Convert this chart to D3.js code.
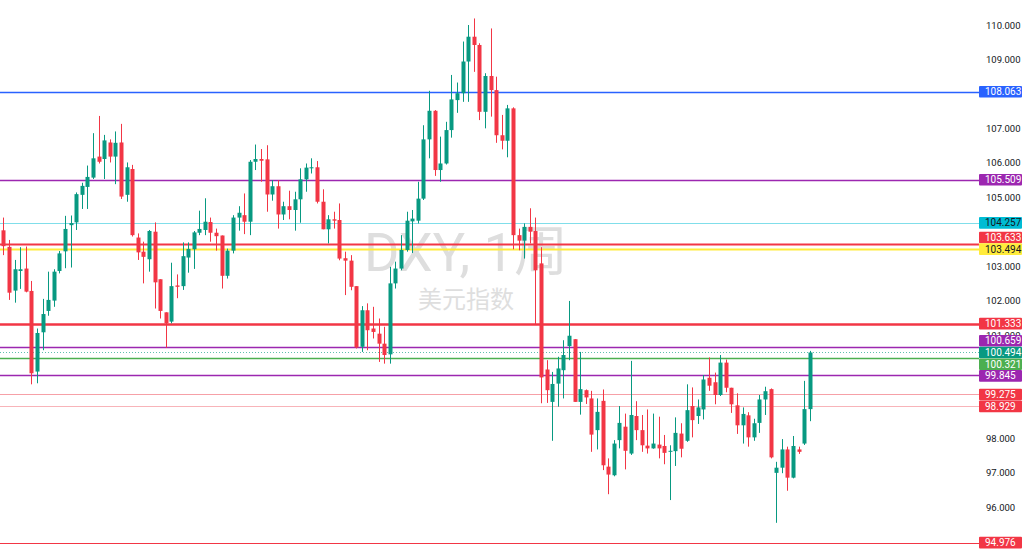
<!DOCTYPE html>
<html><head><meta charset="utf-8">
<script src="https://cdn.jsdelivr.net/npm/d3@7"></script>
<style>html,body{margin:0;padding:0;background:#fff;overflow:hidden}</style>
</head><body>
<svg id="c" width="1024" height="549"></svg>
<script>
const open = [104.04,103.56,102.29,102.86,102.93,102.28,99.94,101.08,101.70,102.00,102.86,103.43,104.19,104.27,105.07,105.30,105.57,106.18,106.11,106.59,106.18,106.59,105.07,105.82,103.83,103.42,103.20,104.00,102.62,101.66,101.39,102.44,102.42,103.25,103.49,103.97,104.05,104.28,103.97,103.89,102.72,103.45,104.41,104.48,104.29,106.03,106.11,106.10,105.08,105.32,104.50,104.74,104.63,104.94,105.52,105.84,105.87,104.87,104.07,104.36,104.34,103.23,103.16,102.42,100.66,101.72,101.19,101.04,100.75,100.44,102.50,102.93,103.47,104.30,104.32,104.96,106.68,107.51,105.79,105.98,106.95,107.82,108.02,108.94,109.66,109.42,107.48,108.52,108.11,106.80,106.64,107.58,103.90,103.74,104.14,104.02,103.08,100.00,99.06,99.59,99.98,100.68,100.88,99.06,99.40,99.16,98.24,99.09,97.18,96.93,97.95,98.34,97.56,98.65,98.24,97.79,97.71,97.82,97.78,97.62,97.63,98.14,97.93,98.94,98.65,98.84,99.76,99.63,99.26,100.20,99.47,98.96,98.38,98.67,98.03,98.45,99.13,99.43,97.00,97.15,97.68,96.86,97.68,97.85,98.85];
const high = [104.41,103.76,103.18,103.55,103.57,102.57,101.19,102.05,102.84,102.91,103.44,104.46,104.47,105.14,105.42,105.92,106.86,107.36,106.81,106.68,106.91,107.13,106.01,105.94,103.95,103.71,104.05,104.27,102.62,101.66,103.10,102.76,103.69,103.69,104.02,104.61,104.97,104.41,104.09,103.89,103.51,104.48,104.74,105.11,106.08,106.53,106.40,106.51,105.50,105.50,104.87,105.19,105.16,105.84,105.98,106.13,106.05,105.23,104.48,104.58,104.82,103.42,103.32,102.42,101.84,101.92,101.82,101.48,101.24,102.98,103.13,103.90,104.58,104.63,105.45,107.09,108.09,107.53,106.76,107.19,108.55,108.33,109.52,110.00,110.19,109.47,108.60,109.90,108.50,107.39,107.68,107.61,104.09,104.24,104.68,104.41,103.55,100.27,99.93,100.37,100.85,101.99,100.88,100.51,99.42,99.38,99.16,99.42,97.42,97.95,98.94,98.72,100.25,99.08,98.68,98.84,98.72,98.63,98.10,97.80,98.61,98.44,99.57,99.48,99.13,99.84,100.35,99.91,100.42,100.29,99.47,99.31,98.90,98.76,98.57,99.26,99.50,99.45,97.32,97.98,97.76,98.07,97.76,99.67,100.54];
const low = [103.32,102.02,101.94,102.34,102.24,99.57,99.60,100.56,101.56,101.82,102.79,102.94,102.96,104.05,104.66,104.66,105.53,105.98,105.53,106.01,105.38,104.95,104.87,103.86,103.18,102.50,102.84,101.77,101.48,100.63,101.34,102.07,102.31,102.81,102.92,103.90,103.90,103.71,103.45,102.35,102.64,103.37,104.03,103.93,103.90,105.79,105.45,104.58,104.90,104.09,104.34,104.36,104.03,104.26,105.16,105.69,104.82,104.07,103.66,104.09,103.17,102.16,102.30,100.61,100.51,100.56,100.90,100.22,100.17,100.17,102.35,102.88,103.42,103.38,104.24,104.92,106.13,105.62,105.45,105.95,106.73,107.45,107.77,107.77,108.64,107.24,107.00,107.34,106.58,106.39,106.16,103.49,103.46,103.22,103.66,101.29,99.02,99.03,97.93,98.92,99.16,100.27,99.06,98.69,99.00,97.61,97.68,97.08,96.38,96.90,97.71,97.10,97.52,97.95,97.61,97.56,97.70,97.42,97.25,96.21,97.20,97.45,97.90,98.03,98.42,98.55,99.38,98.99,99.23,99.34,98.74,98.13,97.85,97.76,97.93,98.16,98.68,97.42,95.55,96.99,96.48,96.84,97.55,97.81,98.50];
const close = [103.58,102.23,102.91,102.91,102.26,99.89,101.06,101.61,102.02,102.84,103.37,104.08,104.25,105.09,105.33,105.59,106.13,106.03,106.65,106.18,106.58,105.02,105.87,103.90,103.40,103.27,104.02,102.53,101.70,101.34,102.42,102.40,103.29,103.50,103.98,104.08,104.29,103.97,103.87,102.72,103.45,104.41,104.55,104.29,106.03,106.11,106.06,105.08,105.32,104.50,104.74,104.63,104.94,105.52,105.86,105.87,104.87,104.07,104.36,104.32,103.22,103.16,102.40,100.64,101.72,101.14,101.09,100.75,100.42,102.50,102.93,103.47,104.32,104.38,104.96,106.68,107.51,105.79,105.98,106.95,107.84,108.02,108.94,109.66,109.42,107.48,108.52,108.11,106.80,106.64,107.58,103.90,103.74,104.14,104.00,102.88,99.77,99.40,99.58,100.03,100.42,100.98,99.06,99.43,99.19,98.11,98.77,97.22,96.95,97.85,98.45,97.64,98.68,98.24,97.80,97.71,97.85,97.71,97.58,97.64,98.16,97.70,98.82,98.53,98.90,99.71,99.53,99.26,100.20,99.47,98.99,98.38,98.71,98.03,98.44,99.13,99.37,97.45,97.15,97.68,96.86,97.78,97.61,98.85,100.494];
const levelValues = [108.063,105.509,104.257,103.633,103.494,101.333,100.659,100.494,100.321,99.845,99.275,98.929,94.976];
const tickValues = [95,96,97,98,99,100,101,102,103,104,105,106,107,108,109,110];
const watermarkTitle = "DXY, 1周";
const watermarkSub = "美元指数";
const currentPrice = 100.494;

// styles per level (same order as levelValues)
const levelStyle = [
  {line:"#2962ff", w:1.3, bg:"#2962ff", fg:"#fff"},
  {line:"#9c27b0", w:1.6, bg:"#9c27b0", fg:"#fff"},
  {line:"#80deea", w:1.2, bg:"#00bcd4", fg:"#131722"},
  {line:"#f23645", w:2, bg:"#f23645", fg:"#fff"},
  {line:"#ffeb3b", w:2, bg:"#ffeb3b", fg:"#131722"},
  {line:"#f23645", w:2.5, bg:"#f23645", fg:"#fff"},
  {line:"#9c27b0", w:1.6, bg:"#9c27b0", fg:"#fff"},
  {line:"#5fbfae", w:1, bg:"#089981", fg:"#fff", dash:"1,2"},
  {line:"#4caf50", w:1.3, bg:"#4caf50", fg:"#fff"},
  {line:"#9c27b0", w:1.6, bg:"#9c27b0", fg:"#fff"},
  {line:"#f6a0a7", w:1.2, bg:"#f23645", fg:"#fff"},
  {line:"#f8b4b9", w:1.2, bg:"#f23645", fg:"#fff"},
  {line:"#f23645", w:1.2, bg:"#f23645", fg:"#fff"}
];

const svg = d3.select("#c");
const y = d3.scaleLinear().domain([95,110]).range([541.75,25]);
const x = d3.scaleLinear().domain([0, open.length-1]).range([3.3, 809.7]);
const UP = "#089981", DN = "#f23645";
const font = "Roboto, 'Noto Sans CJK SC', sans-serif";

// watermark
svg.append("text").attr("x",466).attr("y",271).attr("text-anchor","middle")
  .attr("font-family",font).attr("font-size",54).attr("fill","#dedede").text(watermarkTitle);
svg.append("text").attr("x",466).attr("y",308).attr("text-anchor","middle")
  .attr("font-family",font).attr("font-size",24).attr("fill","#dedede").text(watermarkSub);

// level lines
const lvl = levelValues.map((v,i)=>({v, s:levelStyle[i], ty:y(v)}));
svg.append("g").selectAll("line").data(lvl).join("line")
  .attr("x1",0).attr("x2",979).attr("y1",d=>Math.round(d.ty)+0.5).attr("y2",d=>Math.round(d.ty)+0.5)
  .attr("stroke",d=>d.s.line).attr("stroke-width",d=>d.s.w)
  .attr("stroke-dasharray",d=>d.s.dash||null);

// candles
const data = open.map((o,i)=>({i,o,h:high[i],l:low[i],c:close[i]}));
const g = svg.append("g");
g.selectAll("line").data(data).join("line")
  .attr("x1",d=>Math.round(x(d.i))+0.5).attr("x2",d=>Math.round(x(d.i))+0.5)
  .attr("y1",d=>y(d.h)).attr("y2",d=>y(d.l))
  .attr("stroke",d=>d.c>=d.o?UP:DN).attr("stroke-width",1);
g.selectAll("rect").data(data).join("rect")
  .attr("x",d=>Math.round(x(d.i))-1.5).attr("width",4)
  .attr("y",d=>y(Math.max(d.o,d.c)))
  .attr("height",d=>Math.max(1,Math.abs(y(d.o)-y(d.c))))
  .attr("fill",d=>d.c>=d.o?UP:DN);

// axis ticks
const LH = 11.7;
const shownTicks = tickValues.filter(t=>!levelValues.some(v=>Math.abs(y(t)-y(v))<10));
const axis = d3.axisRight(y).tickValues(shownTicks).tickFormat(d3.format(".3f")).tickSize(0).tickPadding(0);
const ag = svg.append("g").attr("transform","translate(986,0)").call(axis);
ag.select(".domain").remove();
ag.selectAll("text").attr("font-family",font).attr("font-size",9.5).attr("fill","#131722");

// label placement: current price fixed, others pushed away
const sorted = lvl.slice().sort((a,b)=>a.v-b.v);
const ci = sorted.findIndex(d=>d.v===currentPrice);
sorted[ci].ly = sorted[ci].ty;
for (let k=ci+1;k<sorted.length;k++) sorted[k].ly = Math.min(sorted[k].ty, sorted[k-1].ly - LH);
for (let k=ci-1;k>=0;k--) sorted[k].ly = Math.max(sorted[k].ty, sorted[k+1].ly + LH);
const lg = svg.append("g").selectAll("g").data(lvl).join("g")
  .attr("transform",d=>`translate(979,${d.ly})`);
lg.append("rect").attr("x",0).attr("y",-5.8).attr("width",43).attr("height",11.6).attr("rx",1).attr("fill",d=>d.s.bg);
lg.append("text").attr("x",6).attr("y",0).attr("dy","0.36em").attr("font-family",font).attr("font-size",10)
  .attr("fill",d=>d.s.fg).text(d=>d3.format(".3f")(d.v));
</script>
</body></html>
